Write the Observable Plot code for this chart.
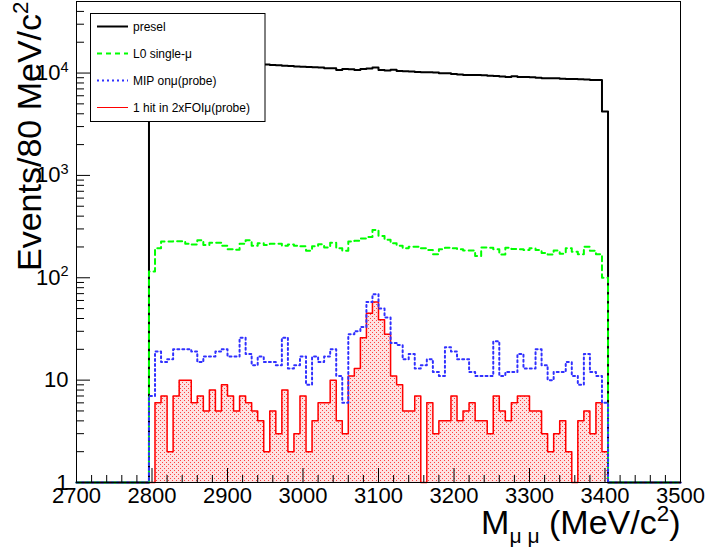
<!DOCTYPE html>
<html>
<head>
<meta charset="utf-8">
<script src="https://cdn.jsdelivr.net/npm/d3@7"></script>
<script src="https://cdn.jsdelivr.net/npm/@observablehq/plot@0.6"></script>
<style>
  body { margin: 0; background: #fff; }
  #chart svg { display: block; }
</style>
</head>
<body>
<div id="chart"></div>
<script>
// ---- histogram binning (MeV/c^2) ----
const xMin = 2700, xMax = 3500, binWidth = 8;
const firstFilledEdge = 2796; // lower edge of first non-empty bin

// ---- series values: 76 bins from 2796 to 3404 ----
const presel = [7800, 13200, 13300, 13100, 13200, 13000, 12900, 13000, 12800, 12700, 12800, 12600, 12600, 12500, 12500, 12400, 12400, 12300, 12200,
  12100, 12000, 11900, 11800, 11700, 11600, 11550, 11450, 11400, 11300, 11140, 11140, 10700, 10950, 10900, 10700, 10950, 11050, 11300, 10700,
  10600, 10800, 10500, 10400, 10330, 10250, 10200, 10200, 10100, 9950, 9950, 9800, 9700, 9580, 9580, 9580, 9500, 9430, 9360, 9230,
  9150, 9300, 9150, 9150, 9080, 9020, 8890, 8890, 8890, 8820, 8760, 8760, 8700, 8630, 8570, 8570, 4200];
const l0Single = [115, 194, 226, 226, 228, 228, 215, 211, 233, 209, 220, 220, 206, 190, 188, 215, 233, 206, 218, 209,
  215, 215, 205, 211, 206, 203, 184, 203, 212, 198, 220, 194, 184, 226, 230, 242, 250, 293, 256,
  235, 217, 206, 194, 201, 201, 194, 187, 170, 190, 197, 194, 190, 185, 185, 163, 198, 197, 190, 169,
  197, 191, 190, 187, 194, 187, 175, 169, 185, 172, 194, 180, 170, 201, 184, 170, 100];
const mipProbe = [7, 19, 15, 16, 20, 20, 20, 19, 15, 17, 17, 19, 20, 17, 17, 26, 18, 14, 17, 15,
  15, 14, 26, 13, 14, 17, 9, 17, 15, 17, 20, 11, 6, 28, 30, 33, 58, 69, 50, 41,
  23, 22, 16, 18, 13, 14, 16, 12, 11, 21, 19, 16, 16, 12, 11, 11, 11, 24, 11, 12,
  12, 18, 13, 13, 20, 14, 10, 12, 12, 15, 11, 9, 18, 12, 11, 6];
const oneHitFOI = [0, 6, 7, 2, 7, 10, 10, 6, 7, 5, 8, 5, 9, 7, 5, 7, 6, 5, 4, 2,
  5, 3, 8, 2, 3, 7, 2, 4, 6, 6, 10, 4, 3, 11, 13, 26, 45, 58, 39, 28,
  11, 9, 5, 5, 7, 0, 6, 3, 4, 4, 7, 4, 5, 6, 4, 4, 3, 7, 5, 4,
  6, 7, 7, 5, 5, 3, 2, 3, 4, 2, 0, 4, 5, 3, 6, 2];

// ---- axes ----
const xTicks = [2700, 2800, 2900, 3000, 3100, 3200, 3300, 3400, 3500];
const xMinorTicks = d3.range(2700, 3501, 20).filter(v => v % 100 !== 0);
const yTicks = [1, 10, 100, 1000, 10000];
const yTickLabels = ["1", "10", "10^{2}", "10^{3}", "10^{4}"];
const yMinorTicks = [2,3,4,5,6,7,8,9,20,30,40,50,60,70,80,90,200,300,400,500,600,700,800,900,
  2000,3000,4000,5000,6000,7000,8000,9000,20000,30000,40000];
const yDomain = [1, 50000];
const xTitle = "M_{\u03bc \u03bc} (MeV/c^{2})";
const yTitle = "Events/80 MeV/c^{2}";

// ---- legend ----
const legendLabels = ["presel", "L0 single-\u03bc", "MIP on\u03bc(probe)", "1 hit in 2xFOI\u03bc(probe)"];
const legendColors = ["#000000", "#00ff00", "#3030ff", "#ff0000"];
const legendDash = [null, "5,4", "2,3", null];
const legendWidths = [2, 2, 2, 1];

// build full-range step data (empty bins drawn at the frame bottom, as ROOT does)
function histPoints(vals) {
  const nBins = (xMax - xMin) / binWidth;
  const offset = (firstFilledEdge - xMin) / binWidth;
  const pts = [];
  for (let j = 0; j < nBins; j++) {
    const k = j - offset;
    const v = (k >= 0 && k < vals.length) ? vals[k] : 0;
    pts.push({x: xMin + j * binWidth, y: Math.max(v, yDomain[0]), base: yDomain[0]});
  }
  pts.push({x: xMax, y: pts[pts.length - 1].y, base: yDomain[0]});
  return pts;
}

const preselPts = histPoints(presel);
const l0Pts = histPoints(l0Single);
const mipPts = histPoints(mipProbe);
const hitPts = histPoints(oneHitFOI);

const labelMap = new Map(yTicks.map((t, i) => [t, yTickLabels[i]]));
const font = "'Liberation Sans', Arial, Helvetica, sans-serif";

const plotW = 708, plotH = 549, mL = 76, mR = 28, mT = 1, mB = 67;
const innerW = plotW - mL - mR, innerH = plotH - mT - mB;

const svg = Plot.plot({
  width: plotW, height: plotH,
  marginLeft: mL, marginRight: mR, marginTop: mT, marginBottom: mB,
  style: {fontFamily: font, fontSize: "22px", background: "white", color: "black"},
  x: {domain: [xMin, xMax]},
  y: {type: "log", domain: yDomain},
  marks: [
    Plot.areaY(hitPts, {x: "x", y1: "base", y2: "y", curve: "step-after", fill: "url(#rootDots)"}),
    Plot.line(hitPts, {x: "x", y: "y", curve: "step-after", stroke: "#ff0000", strokeWidth: 1.5}),
    Plot.line(preselPts, {x: "x", y: "y", curve: "step-after", stroke: "#000000", strokeWidth: 2}),
    Plot.line(l0Pts, {x: "x", y: "y", curve: "step-after", stroke: "#00ff00", strokeWidth: 2, strokeDasharray: "5,4"}),
    Plot.line(mipPts, {x: "x", y: "y", curve: "step-after", stroke: "#3030ff", strokeWidth: 2, strokeDasharray: "2,3"}),
    Plot.frame({stroke: "black", strokeWidth: 1}),
    Plot.ruleX(xMinorTicks, {stroke: "black", insetTop: innerH - 7}),
    Plot.ruleX(xTicks, {stroke: "black", insetTop: innerH - 14}),
    Plot.ruleY(yMinorTicks, {stroke: "black", insetRight: innerW - 8}),
    Plot.ruleY(yTicks, {stroke: "black", insetRight: innerW - 14}),
    Plot.axisX({ticks: xTicks, tickSize: 0, tickPadding: 5, label: null, tickFormat: d => String(d), fontSize: 22}),
    Plot.axisY({ticks: yTicks, tickSize: 0, tickPadding: 8, label: null, tickFormat: d => labelMap.get(d), fontSize: 22}),
    Plot.text([xTitle], {text: d => d, frameAnchor: "bottom-right", textAnchor: "end", dy: 51, fontSize: 34}),
    Plot.text([yTitle], {text: d => d, frameAnchor: "top-left", textAnchor: "end", rotate: -90, dx: -60, fontSize: 34})
  ]
});

document.getElementById("chart").appendChild(svg);

// fill pattern similar to ROOT's dotted fill style
const defs = d3.select(svg).insert("defs", ":first-child");
const pat = defs.append("pattern").attr("id", "rootDots")
  .attr("patternUnits", "userSpaceOnUse").attr("width", 4).attr("height", 4);
pat.append("rect").attr("width", 4).attr("height", 4).attr("fill", "#fde2e2");
pat.append("rect").attr("x", 0).attr("y", 0).attr("width", 1).attr("height", 1).attr("fill", "#ff4040");
pat.append("rect").attr("x", 2).attr("y", 2).attr("width", 1).attr("height", 1).attr("fill", "#ff4040");

// turn ^{..} and _{..} into superscript / subscript tspans
function richText(node) {
  const s = node.textContent;
  if (!/[\^_]\{/.test(s)) return;
  const base = parseFloat(getComputedStyle(node).fontSize) || 22;
  const parts = [];
  const re = /([\^_])\{([^}]*)\}/g;
  let last = 0, m;
  while ((m = re.exec(s))) {
    if (m.index > last) parts.push({t: s.slice(last, m.index), mode: 0});
    parts.push({t: m[2], mode: m[1] === "^" ? 1 : -1});
    last = re.lastIndex;
  }
  if (last < s.length) parts.push({t: s.slice(last), mode: 0});
  node.textContent = "";
  let shift = 0;
  parts.forEach((p, idx) => {
    const ts = d3.select(node).append("tspan").text(p.t);
    let target = 0;
    if (p.mode === 1) { target = -0.38 * base; ts.attr("font-size", (0.66 * base) + "px"); }
    if (p.mode === -1) { target = 0.28 * base; ts.attr("font-size", (0.62 * base) + "px"); }
    if (idx > 0 || target !== 0) ts.attr("dy", target - shift);
    shift = target;
  });
}
d3.select(svg).selectAll("text").each(function() { richText(this); });

// legend box
const lg = d3.select(svg).append("g").attr("font-family", font).attr("font-size", 12)
  .attr("text-anchor", "start");
lg.append("rect").attr("x", 90.5).attr("y", 13.5).attr("width", 174.5).attr("height", 108)
  .attr("fill", "white").attr("stroke", "black").attr("stroke-width", 1);
legendLabels.forEach((lab, i) => {
  const yy = 26.5 + i * 27;
  lg.append("line").attr("x1", 97).attr("x2", 128).attr("y1", yy).attr("y2", yy)
    .attr("stroke", legendColors[i]).attr("stroke-width", legendWidths[i])
    .attr("stroke-dasharray", legendDash[i]);
  lg.append("text").attr("x", 133).attr("y", yy + 4.3).attr("fill", "black").text(lab);
});
</script>
</body>
</html>
